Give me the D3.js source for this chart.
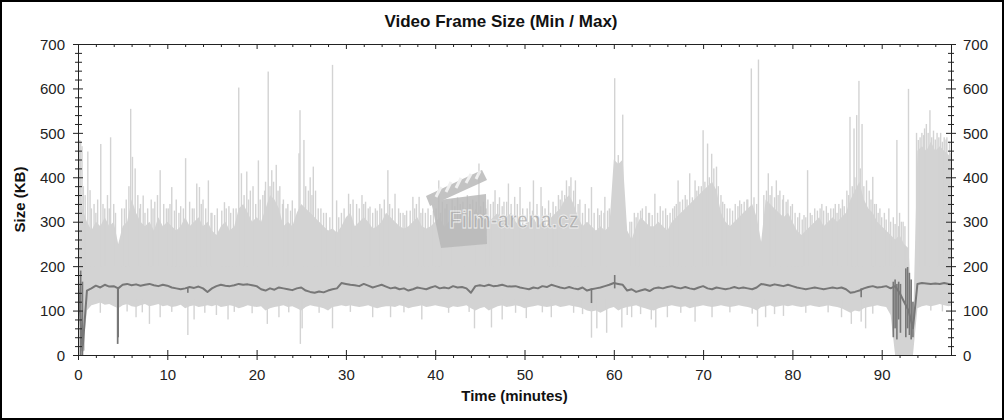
<!DOCTYPE html>
<html><head><meta charset="utf-8">
<script src="https://cdn.jsdelivr.net/npm/d3@7"></script>
<style>body{margin:0;background:#fff}svg{display:block}text{font-family:"Liberation Sans",Arial,sans-serif}</style>
</head><body><svg id="c" width="1004" height="420"></svg>
<script>
// ---- data (minutes / KB) ----
const durationMin = 97.76;
const sampleStep = 0.5;
const maxSize = [
400,330,300,280,300,290,310,290,300,250,
290,300,350,320,300,290,300,280,310,290,
300,290,280,290,310,290,300,310,290,300,
280,270,290,300,280,290,330,340,320,300,
310,300,330,360,350,330,290,300,290,320,
340,330,320,310,300,290,280,285,275,290,
310,320,290,300,310,300,285,290,300,320,
310,300,290,285,290,300,310,290,285,290,
300,310,290,300,310,295,300,320,300,330,
310,320,300,310,320,300,310,320,300,290,
295,300,310,290,300,290,310,320,330,350,
360,340,310,290,300,290,280,290,280,290,
440,430,440,280,260,290,310,300,290,290,
300,290,280,300,310,320,330,340,350,360,
370,380,390,370,320,300,290,300,310,320,
330,340,310,255,350,340,330,320,310,320,
300,280,270,280,290,300,310,290,300,310,
300,310,320,350,370,390,350,330,320,300,
290,280,270,260,270,250,240,60,460,470,
460,480,460,470,460,450,460];
const minSize = [
0,0,100,112,115,118,113,115,110,105,
112,115,110,108,112,115,110,112,115,110,
112,108,110,113,105,110,112,108,110,112,
110,113,108,110,112,110,105,108,112,110,
108,110,100,105,108,110,112,108,110,105,
100,108,112,110,108,105,100,108,110,112,
110,112,110,108,110,112,108,105,108,110,
110,108,112,110,105,108,110,112,108,110,
112,110,108,105,110,108,110,112,105,100,
105,108,100,105,110,112,108,110,112,110,
105,108,110,112,110,108,110,112,108,110,
112,110,108,105,100,98,100,95,100,105,
108,100,105,108,110,112,108,105,102,100,
105,108,110,112,110,108,110,105,108,110,
112,110,108,110,112,110,108,110,112,110,
108,105,100,108,110,112,108,110,112,110,
112,110,108,110,112,110,108,110,112,110,
108,105,100,95,100,98,105,108,110,112,
110,108,90,0,0,0,0,0,105,110,
112,110,112,115,112,110,112];
const avgSize = [
170,10,145,150,156,152,158,154,155,150,
158,160,157,159,156,158,160,157,155,158,
156,152,150,148,150,153,151,154,150,142,
150,155,158,156,155,157,160,158,159,157,
155,148,145,150,147,152,150,148,146,150,
152,145,142,140,143,141,145,148,150,162,
160,158,157,155,160,156,152,155,158,154,
150,152,148,150,145,148,152,150,148,152,
155,150,152,150,155,152,153,150,140,155,
157,155,158,155,156,158,155,154,155,152,
150,148,152,150,155,153,158,155,152,150,
153,150,148,152,145,148,150,152,155,158,
162,160,158,145,148,142,145,148,144,150,
152,150,153,155,152,150,153,150,148,152,
155,150,148,152,150,148,150,153,150,152,
150,148,152,160,158,156,159,157,155,158,
155,152,150,148,150,152,150,148,150,152,
150,152,148,140,142,145,150,153,155,152,
153,155,150,155,140,120,100,60,160,162,
161,160,161,160,162,160,159];
// peaks of the max series [minute, KB]
const maxSpikes = [
[0.1,470],[0.2,484],[0.3,480],[0.45,470],[1.1,458],[1.35,371],[2.55,475],[3.65,490],[5.9,554],[6.1,446],[6.4,420],[7.3,359],[8.2,350],
[9.2,416],[10.5,378],[12.05,443],[13.3,386],[13.6,378],[14.6,393],[16.4,344],[18.0,602],[18.3,409],[18.9,413],[20.2,438],
[21.3,638],[21.7,416],[22.2,428],[24.0,348],[24.75,454],[24.86,551],[25.3,484],[26.35,424],[26.6,370],[28.5,653],[28.96,348],
[30.3,363],[32.7,334],[34.7,416],[35.5,363],[37.5,356],[38.2,356],[40.4,393],[44.9,431],[46.7,371],[48.2,386],[48.9,356],
[49.5,378],[51.0,393],[51.85,378],[52.7,348],[54.7,393],[55.2,400],[55.7,393],[57.5,378],[59.0,356],[60.1,623],[60.5,450],
[61.0,541],[62.7,320],[64.6,363],[67.2,393],[68.5,409],[69.1,393],[70.0,506],[70.5,476],[70.96,453],[71.5,424],[74.1,348],
[75.4,645],[76.2,665],[77.3,409],[78.2,393],[79.5,350],[81.7,416],[82.5,330],[83.3,340],[84.8,340],[85.6,350],[86.45,536],
[86.9,510],[87.2,540],[87.45,617],[87.8,520],[88.3,393],[89.0,401],[91.7,484],[93.0,599],[94.1,484],[95.0,520],[95.4,551],
[96.2,500],[97.0,490],
[0.8,360],[1.8,340],[2.2,350],[3.0,330],[3.3,360],[4.0,340],[4.9,330],[5.4,350],[6.7,360],[7.0,340],[7.8,330],[8.6,345],
[9.6,340],[10.1,330],[11.0,350],[11.5,335],[12.5,345],[13.0,330],[14.0,350],[15.0,320],[15.6,330],[16.9,335],[17.4,330],
[19.3,370],[19.6,380],[20.7,360],[21.0,390],[22.6,380],[23.0,350],[23.5,340],[25.8,370],[26.0,400],[27.2,330],[27.8,320],
[29.5,320],[30.8,350],[31.2,340],[31.8,360],[32.2,345],[33.3,330],[33.8,340],[34.3,350],[35.9,330],[36.4,320],[36.8,325],
[37.9,340],[38.6,330],[39.2,330],[39.8,325],[40.8,345],[41.3,340],[41.9,350],[42.5,355],[43.1,345],[43.6,360],[44.2,350],
[45.4,345],[45.9,350],[46.2,340],[47.2,355],[47.7,345],[49.2,340],[50.3,330],[50.6,345],[52.0,335],[53.2,345],[53.8,360],
[54.2,370],[56.2,350],[56.8,340],[58.2,330],[58.6,325],[59.5,330],[61.8,300],[62.3,320],[63.2,330],[63.6,335],[64.0,320],
[65.2,335],[65.8,330],[66.3,320],[66.8,335],[67.7,350],[68.0,360],[69.5,380],[71.2,420],[72.0,360],[72.4,340],[73.0,330],
[73.6,340],[74.6,345],[74.9,350],[77.7,380],[78.6,370],[79.0,360],[80.0,340],[80.8,320],[81.3,315],[82.0,320],[83.8,335],
[84.3,330],[85.2,340],[86.1,370],[88.6,370],[89.4,340],[89.8,330],[90.3,320],[90.8,330],[91.3,310],[92.0,320],[92.4,300],
[93.9,500],[94.5,500],[94.8,510],[95.8,505],[96.6,500],[97.3,490],
[0.6,380],[1.5,330],[2.0,320],[2.8,340],[3.5,330],[4.2,320],[5.2,330],[5.7,380],[6.9,330],[7.5,320],[8.4,330],[8.9,360],
[9.9,330],[10.3,340],[10.8,325],[11.3,320],[11.8,330],[12.8,330],[13.8,340],[14.3,330],[14.9,320],[15.3,315],[16.1,325],
[16.6,330],[17.1,320],[17.7,330],[18.6,360],[19.1,350],[19.9,340],[20.4,350],[20.9,370],[21.5,380],[21.9,390],[22.4,370],
[22.9,340],[23.3,330],[23.8,325],[24.3,330],[25.5,380],[26.2,360],[26.9,330],[27.5,320],[28.2,310],[29.2,310],[29.8,330],
[30.5,340],[31.5,330],[32.0,340],[32.5,330],[33.0,320],[33.5,325],[34.0,330],[34.9,340],[35.2,330],[36.1,320],[36.6,315],
[37.2,325],[37.7,330],[38.4,320],[38.9,320],[39.5,315],[40.1,330],[40.6,320],[41.1,330],[41.6,325],[42.2,335],[42.8,340],
[43.4,330],[43.9,340],[44.6,345],[45.1,335],[45.7,330],[46.5,345],[47.0,340],[47.5,335],[48.0,345],[48.5,340],[49.8,330],
[50.9,325],[51.4,340],[52.3,330],[52.9,320],[53.5,335],[54.0,350],[54.5,360],[55.0,380],[55.5,370],[56.0,340],[56.5,320],
[57.2,330],[57.8,320],[58.4,315],[58.9,320],[59.3,325],[62.0,300],[62.5,310],[63.0,325],[63.9,320],[64.3,315],[64.9,320],
[65.5,325],[66.0,315],[66.6,330],[67.0,340],[67.4,345],[68.2,350],[68.8,355],[69.3,370],[69.8,380],[70.2,390],[70.7,400],
[71.7,380],[72.2,345],[72.7,330],[73.3,325],[73.9,335],[74.3,340],[75.0,350],[75.7,355],[76.0,340],[76.8,360],[77.1,370],
[77.5,360],[78.0,355],[78.4,360],[78.9,350],[79.3,345],[79.8,335],[80.3,320],[80.6,310],[81.1,305],[81.5,310],[82.2,315],
[82.8,325],[83.1,330],[83.5,325],[84.0,320],[84.6,330],[85.0,320],[85.4,330],[85.8,335],[86.3,360],[86.7,380],[87.0,400],
[87.6,420],[88.0,380],[88.8,350],[89.2,340],[89.6,320],[90.0,310],[90.5,305],[91.0,300],[91.5,295],[91.9,290],[92.2,300],
[92.6,290],[94.3,490],[94.7,495],[95.2,500],[95.6,490],[96.0,485],[96.4,490],[96.8,480],[97.2,485],[97.6,480]];
// lows of the min series [minute, KB]
const minDips = [
[0.7,10],[4.4,25],[4.5,40],[6.5,85],[8.0,70],[9.2,85],[12.3,45],[13.0,80],[15.5,90],[16.8,80],[21.2,70],[22.5,85],[24.9,25],
[25.1,60],[28.5,60],[33.0,85],[35.0,85],[38.5,80],[44.4,60],[46.3,62],[47.5,80],[50.2,83],[53.0,85],[57.5,39],[58.1,60],
[59.2,50],[60.9,62],[62.0,85],[64.2,80],[64.7,62],[66.0,85],[69.1,75],[71.0,85],[76.1,64],[77.0,85],[79.0,88],[85.5,85],
[86.6,70],[87.7,75],[88.2,60],
[2.5,95],[5.5,98],[7.2,96],[10.5,97],[14.2,95],[17.5,97],[19.5,94],[23.6,96],[27.0,95],[30.5,97],[36.5,96],[41.5,95],
[43.8,97],[49.0,95],[52.0,96],[55.5,95],[56.5,92],[61.5,90],[63.0,92],[67.5,95],[73.0,96],[75.5,93],[78.0,92],[81.5,95],
[84.0,96],[89.0,93],[95.5,100],[96.8,98]];
// short excursions of the dark series [minute, lowKB, highKB]
const avgBars = [
[0.3,0,190],[0.5,0,165],[4.45,25,150],[4.5,40,150],[12.3,140,152],[57.5,117,150],[60.1,150,180],[87.7,130,150],
[91.3,40,165],[91.5,60,170],[91.7,35,160],[91.9,80,165],[92.1,50,160],[92.7,40,195],[92.9,60,198],[93.1,45,185],
[93.3,35,170],[93.5,40,120]];
const xTicks = [0,10,20,30,40,50,60,70,80,90];
const yTicks = [0,100,200,300,400,500,600,700];
const titleText = "Video Frame Size (Min / Max)";
const xTitle = "Time (minutes)";
const yTitle = "Size (KB)";

// ---- drawing ----
const svg = d3.select("#c");
const L = 78, R = 951, T = 44, B = 355;
const x = d3.scaleLinear().domain([0, durationMin]).range([L, R]);
const y = d3.scaleLinear().domain([0, 700]).range([B, T]);
const light = "#d3d3d3", dark = "#777";

svg.append("rect").attr("x",0).attr("y",0).attr("width",1004).attr("height",420).attr("fill","#fff");
svg.append("defs").append("clipPath").attr("id","pc").append("rect")
  .attr("x",L).attr("y",T).attr("width",R-L).attr("height",B-T);

const rows = maxSize.map((v,i)=>({t:i*sampleStep, max:v, min:minSize[i], avg:avgSize[i]}));
const plot = svg.append("g").attr("clip-path","url(#pc)");

plot.append("path").datum(rows)
  .attr("d", d3.area().x(d=>x(d.t)).y0(d=>y(d.min)).y1(d=>y(d.max)))
  .attr("fill", light);
plot.append("g").selectAll("rect").data(maxSpikes).join("rect")
  .attr("x", d=>x(d[0])-0.7).attr("width",1.4)
  .attr("y", d=>y(d[1])).attr("height", d=>y(200)-y(d[1]))
  .attr("fill", light);
plot.append("g").selectAll("rect").data(minDips).join("rect")
  .attr("x", d=>x(d[0])-0.7).attr("width",1.4)
  .attr("y", y(125)).attr("height", d=>y(d[1])-y(125))
  .attr("fill", light);

// watermark
const wm = svg.append("g").attr("opacity",0.85);
wm.append("polygon").attr("points","431,201 486,194 487,244 441,248").attr("fill","#b9b9b9");
wm.append("polygon").attr("points","426,196 482,170 487,180 430,206").attr("fill","#b9b9b9");
[[436,197,441,187],[446,192,451,182],[456,188,461,178],[466,183,471,174],[476,179,480,171]].forEach(s=>{
  wm.append("line").attr("x1",s[0]).attr("y1",s[1]).attr("x2",s[2]).attr("y2",s[3]).attr("stroke","#eee").attr("stroke-width",3);
});
wm.append("text").attr("x",449).attr("y",228).text("Film-arena.cz")
  .attr("font-size",24).attr("font-weight","bold").attr("textLength",130).attr("lengthAdjust","spacingAndGlyphs")
  .attr("fill","#acacac").attr("stroke","#f2f2f2").attr("stroke-width",0.8);

plot.append("path").datum(rows)
  .attr("d", d3.line().x(d=>x(d.t)).y(d=>y(d.avg)))
  .attr("fill","none").attr("stroke",dark).attr("stroke-width",2).attr("stroke-linejoin","round");
plot.append("g").selectAll("rect").data(avgBars).join("rect")
  .attr("x", d=>x(d[0])-0.8).attr("width",1.6)
  .attr("y", d=>y(d[2])).attr("height", d=>y(d[1])-y(d[2]))
  .attr("fill", dark);

// axes
const axCol = "#222";
const xMinor = d3.range(0, durationMin, 2).filter(v=>v%10!==0);
const yMinor = d3.range(0, 701, 20).filter(v=>v%100!==0);
function style(g){
  g.attr("font-family",null).attr("font-size",null);
  g.selectAll("text").attr("font-size",15).attr("fill","#222");
  g.selectAll("line,path").attr("stroke",axCol);
}
svg.append("g").attr("transform",`translate(${L},0)`)
  .call(d3.axisLeft(y).tickValues(yMinor).tickSize(3).tickSizeOuter(0).tickFormat(""))
  .call(g=>{g.select(".domain").remove(); g.selectAll("line").attr("x1",4).attr("stroke",axCol);});
svg.append("g").attr("transform",`translate(${L},0)`)
  .call(d3.axisLeft(y).tickValues(yTicks).tickSize(5).tickSizeOuter(0).tickPadding(8))
  .call(style).call(g=>g.selectAll("line").attr("x1",5)).call(g=>g.selectAll("text").attr("dy","0.35em"));
svg.append("g").attr("transform",`translate(${R},0)`)
  .call(d3.axisRight(y).tickValues(yMinor).tickSize(3).tickSizeOuter(0).tickFormat(""))
  .call(g=>{g.select(".domain").remove(); g.selectAll("line").attr("x1",-3).attr("stroke",axCol);});
svg.append("g").attr("transform",`translate(${R},0)`)
  .call(d3.axisRight(y).tickValues(yTicks).tickSize(5).tickSizeOuter(0).tickPadding(7))
  .call(style).call(g=>g.selectAll("line").attr("x1",-5)).call(g=>g.selectAll("text").attr("dy","0.35em"));
svg.append("g").attr("transform",`translate(0,${B})`)
  .call(d3.axisBottom(x).tickValues(xMinor).tickSize(3).tickSizeOuter(0).tickFormat(""))
  .call(g=>{g.select(".domain").remove(); g.selectAll("line").attr("stroke",axCol);});
svg.append("g").attr("transform",`translate(0,${B})`)
  .call(d3.axisBottom(x).tickValues(xTicks).tickSize(5).tickSizeOuter(0).tickPadding(9))
  .call(style).call(g=>g.selectAll("line").attr("y1",-5));
svg.append("g").attr("transform",`translate(0,${T})`)
  .call(d3.axisTop(x).tickValues(xMinor).tickSize(-3).tickSizeOuter(0).tickFormat(""))
  .call(g=>{g.select(".domain").remove(); g.selectAll("line").attr("stroke",axCol);});
svg.append("g").attr("transform",`translate(0,${T})`)
  .call(d3.axisTop(x).tickValues(xTicks).tickSize(-5).tickSizeOuter(0).tickFormat(""))
  .call(style);

svg.append("text").attr("x",501).attr("y",27).attr("text-anchor","middle")
  .attr("font-size",17).attr("font-weight","bold").attr("fill","#111").text(titleText);
svg.append("text").attr("x",(L+R)/2).attr("y",401).attr("text-anchor","middle")
  .attr("font-size",15).attr("font-weight","bold").attr("fill","#111").text(xTitle);
svg.append("text").attr("transform",`translate(25,${(T+B)/2}) rotate(-90)`).attr("text-anchor","middle")
  .attr("font-size",15).attr("font-weight","bold").attr("fill","#111").text(yTitle);

svg.append("rect").attr("x",1).attr("y",1).attr("width",1002).attr("height",418)
  .attr("fill","none").attr("stroke","#000").attr("stroke-width",2);
</script></body></html>
